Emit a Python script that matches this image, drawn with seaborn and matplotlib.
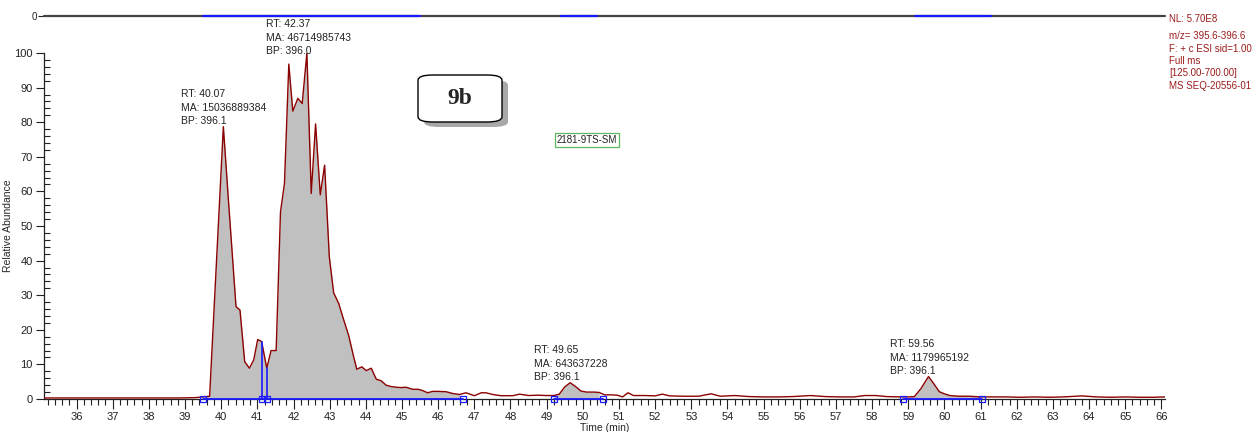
import numpy as np
import pandas as pd
import matplotlib
matplotlib.use("Agg")
import matplotlib.pyplot as plt
from matplotlib.patches import FancyBboxPatch
from matplotlib.ticker import MultipleLocator
import seaborn as sns

# -------------------------------
# DATA
# -------------------------------
time_min = [35.1, 36.0, 37.0, 38.0, 38.8, 39.3, 39.5, 39.68,
            40.06, 40.2, 40.41, 40.52, 40.65, 40.78, 40.9, 41.01, 41.12, 41.26,
            41.38, 41.52, 41.64, 41.75, 41.87, 41.98, 42.12, 42.24, 42.37, 42.49,
            42.61, 42.74, 42.86, 42.99, 43.11, 43.25, 43.39, 43.53, 43.64, 43.75,
            43.89, 44.01, 44.15, 44.29, 44.42, 44.56, 44.7, 44.84, 44.97, 45.11,
            45.3, 45.45, 45.58, 45.71, 45.85, 46.0, 46.22, 46.4, 46.59, 46.77,
            47.0, 47.19, 47.32, 47.51, 47.74, 48.06, 48.25, 48.5, 48.75, 49.0,
            49.2, 49.35, 49.5, 49.65, 49.8, 49.95, 50.1, 50.3, 50.45, 50.6,
            50.8, 50.95, 51.1, 51.25, 51.4, 51.7, 52.0, 52.2, 52.4, 52.8,
            53.2, 53.55, 53.8, 54.2, 54.6, 55.0, 55.4, 55.8, 56.3, 56.7,
            57.1, 57.5, 57.8, 58.1, 58.4, 58.8, 59.0, 59.17, 59.35, 59.56,
            59.7, 59.86, 60.0, 60.15, 60.4, 60.7, 61.0, 61.3, 61.7, 62.1,
            62.5, 62.9, 63.3, 63.8, 64.2, 64.6, 65.0, 65.4, 65.8, 66.1]
rel_abund = [0.3, 0.3, 0.3, 0.3, 0.3, 0.4, 0.6, 0.8,
             78.7, 57.5, 26.7, 25.7, 10.8, 8.9, 11.3, 17.2, 16.6, 8.9,
             14.0, 14.0, 54.1, 62.3, 96.8, 83.2, 86.9, 85.4, 100.0, 59.4,
             79.5, 59.0, 67.6, 41.1, 30.7, 27.6, 22.8, 18.2, 13.2, 8.6,
             9.3, 8.2, 8.9, 5.7, 5.3, 4.0, 3.6, 3.4, 3.3, 3.4,
             2.8, 2.8, 2.4, 1.8, 2.2, 2.2, 2.1, 1.6, 1.3, 1.8,
             0.95, 1.8, 1.8, 1.3, 0.95, 0.95, 1.4, 1.0, 1.1, 1.0,
             1.0, 1.4, 3.5, 4.7, 3.6, 2.3, 2.0, 2.0, 1.9, 1.2,
             1.2, 1.1, 0.6, 1.8, 1.0, 1.0, 0.9, 1.4, 0.9, 0.8,
             0.8, 1.5, 0.8, 1.0, 0.7, 0.6, 0.6, 0.7, 1.0, 0.7,
             0.6, 0.6, 1.0, 1.0, 0.7, 0.6, 0.6, 0.7, 3.0, 6.5,
             4.5, 2.1, 1.5, 1.0, 0.8, 0.8, 0.6, 0.6, 0.6, 0.5,
             0.6, 0.5, 0.6, 0.9, 0.6, 0.5, 0.6, 0.5, 0.5, 0.6]

# integrated peak windows (start, end)
peak_start = [39.5, 49.2, 58.85]
peak_end = [46.7, 50.55, 61.05]
# split points inside the first window
split_time = [41.12, 41.26]
split_height = [16.6, 8.9]

# peak labels (top-left anchor)
lab_rt = ["40.07", "42.37", "49.65", "59.56"]
lab_ma = ["15036889384", "46714985743", "643637228", "1179965192"]
lab_bp = ["396.1", "396.0", "396.1", "396.1"]
lab_x = [38.9, 41.23, 48.66, 58.5]
lab_y = [89.6, 109.8, 15.6, 17.3]

# top strip blue segments
strip_start = [39.5, 49.4, 59.2]
strip_end = [45.5, 50.4, 61.3]

header_lines = ["NL: 5.70E8", "m/z= 395.6-396.6", "F: + c ESI sid=1.00",
                "Full ms", "[125.00-700.00]", "MS SEQ-20556-01"]

df = pd.DataFrame({"Time (min)": time_min, "Relative Abundance": rel_abund})

# -------------------------------
# FIGURE
# -------------------------------
sns.set_style("ticks")
plt.rcParams["font.family"] = ["Liberation Sans", "DejaVu Sans"]

W, H = 1257, 432
fig = plt.figure(figsize=(W / 100, H / 100), dpi=100)
ax = fig.add_axes([44 / W, 33 / H, 1121 / W, 346 / H])

LINE = "#8b0000"
FILL = "#c0c0c0"
BLUE = "#1a1aff"

t = np.array(time_min)
v = np.array(rel_abund)
for s, e in zip(peak_start, peak_end):
    m = (t >= s) & (t <= e)
    ax.fill_between(t[m], 0, v[m], color=FILL, lw=0, zorder=1)

sns.lineplot(data=df, x="Time (min)", y="Relative Abundance", color=LINE,
             lw=1.0, ax=ax, zorder=3)

# integration baselines and markers
for s, e in zip(peak_start, peak_end):
    ax.plot([s, e], [0, 0], color=BLUE, lw=1.3, zorder=4, clip_on=False)
    ax.plot([s, e], [0, 0], ls="none", marker="s", ms=5, mfc="none",
            mec=BLUE, mew=0.9, zorder=5, clip_on=False)
for st, sh in zip(split_time, split_height):
    ax.plot([st, st], [0, sh], color=BLUE, lw=1.2, zorder=4)
    ax.plot([st], [0], ls="none", marker="s", ms=5, mfc="none",
            mec=BLUE, mew=0.9, zorder=5, clip_on=False)

ax.set_xlim(35.1, 66.1)
ax.set_ylim(0, 100)
ax.xaxis.set_major_locator(MultipleLocator(1))
ax.xaxis.set_minor_locator(MultipleLocator(0.2))
ax.yaxis.set_major_locator(MultipleLocator(10))
ax.yaxis.set_minor_locator(MultipleLocator(2))
ax.tick_params(axis="both", which="major", length=6, width=0.8,
               labelsize=8, colors="#222222", pad=2)
ax.tick_params(axis="both", which="minor", length=4, width=0.8, colors="#222222")
ax.tick_params(axis="y", which="minor", direction="in")
ax.tick_params(axis="x", which="major", length=7)
sns.despine(ax=ax)
for sp in ["left", "bottom"]:
    ax.spines[sp].set_linewidth(0.9)
    ax.spines[sp].set_color("#222222")
ax.set_xlabel("Time (min)", fontsize=7.5, labelpad=1)
ax.set_ylabel("Relative Abundance", fontsize=7.5)
ax.yaxis.set_label_coords(-0.0277, 0.5)

for x0, y0, rt, ma, bp in zip(lab_x, lab_y, lab_rt, lab_ma, lab_bp):
    ax.text(x0, y0, f"RT: {rt}\nMA: {ma}\nBP: {bp}", fontsize=7.5,
            va="top", ha="left", linespacing=1.45, color="#222222")

# "9b" box with shadow
sh = FancyBboxPatch((424 / W, 1 - 127 / H), 84 / W, 47 / H,
                    boxstyle="round,pad=0,rounding_size=0.012",
                    transform=fig.transFigure, fc="#a8a8a8", ec="none",
                    hatch="....", zorder=5)
fig.patches.append(sh)
bx = FancyBboxPatch((418 / W, 1 - 122 / H), 84 / W, 47 / H,
                    boxstyle="round,pad=0,rounding_size=0.012",
                    transform=fig.transFigure, fc="white", ec="black",
                    lw=1.0, zorder=6)
fig.patches.append(bx)
fig.text(460 / W, 1 - 99 / H, "9b", fontsize=17, fontweight="bold",
         family=["Liberation Serif", "DejaVu Serif"], ha="center", va="center",
         zorder=7)

fig.text(587 / W, 1 - 140 / H, "2181-9TS-SM", fontsize=7, ha="center",
         va="center", color="#222222",
         bbox=dict(boxstyle="square,pad=0.2", fc="white", ec="#5cb85c", lw=0.9))

for i, line in enumerate(header_lines):
    yy = 19 if i == 0 else 36 + (i - 1) * 12.5
    fig.text(1169 / W, 1 - yy / H, line, fontsize=7, color="#9b1c1c",
             ha="left", va="center")

# top compressed strip
axt = fig.add_axes([44 / W, 1 - 16 / H, 1121 / W, 2 / H])
axt.plot(t, np.zeros_like(t), color="#444444", lw=1.6, clip_on=False)
for s, e in zip(strip_start, strip_end):
    axt.plot([s, e], [0, 0], color=BLUE, lw=1.6, clip_on=False)
axt.set_xlim(35.1, 66.1)
axt.set_ylim(0, 1)
axt.set_yticks([0])
axt.set_xticks([])
axt.tick_params(axis="y", length=4, labelsize=7, pad=1, colors="#222222")
for sp in ["top", "right", "bottom", "left"]:
    axt.spines[sp].set_visible(False)

fig.savefig("out.png", dpi=100)
